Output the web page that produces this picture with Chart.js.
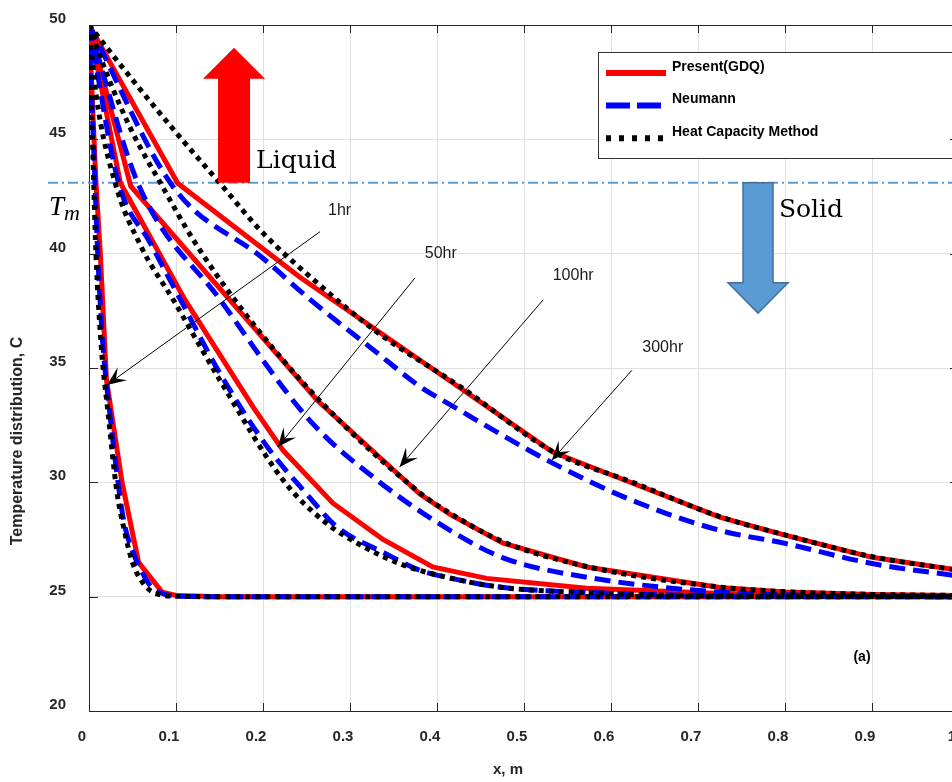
<!DOCTYPE html>
<html>
<head>
<meta charset="utf-8">
<script src="https://cdn.jsdelivr.net/npm/chart.js@4.4.1/dist/chart.umd.min.js"></script>
<style>
  html, body { margin: 0; padding: 0; background: #fff; overflow: hidden; }
  #wrap { width: 975px; height: 782px; }
</style>
</head>
<body>
<div id="wrap"><canvas id="c" width="975" height="782"></canvas></div>
<script>
/* ===== data ===== */
const xTickLabels = ['0','0.1','0.2','0.3','0.4','0.5','0.6','0.7','0.8','0.9','1'];
const yTickLabels = ['20','25','30','35','40','45','50'];
const methodNames = ['Present(GDQ)', 'Neumann', 'Heat Capacity Method'];
const timeLabels  = ['1hr', '50hr', '100hr', '300hr'];
const meltTemp = 43.1;

// Present (GDQ) – [x, T]
const gdq1hr   = [[0,50],[0.008,43.1],[0.013,40],[0.02,34.5],[0.038,30.0],[0.057,26.5],[0.084,25.2],[0.1,25.05],[0.15,25],[1,25]];
const gdq50hr  = [[0,50],[0.036,43.1],[0.11,38.0],[0.1885,33.3],[0.223,31.4],[0.28,29.1],[0.338,27.5],[0.395,26.3],[0.457,25.8],[0.572,25.37],[0.72,25.15],[0.85,25.05],[1,25]];
const gdq100hr = [[0,50],[0.048,42.95],[0.162,37.97],[0.262,33.6],[0.38,29.5],[0.415,28.6],[0.476,27.34],[0.572,26.3],[0.725,25.4],[0.8,25.2],[0.9,25.1],[1,25.05]];
const gdq300hr = [[0,50],[0.102,43.08],[0.2425,38.97],[0.43,34.04],[0.533,31.32],[0.625,29.96],[0.725,28.48],[0.8,27.69],[0.9,26.72],[1,26.15]];

// Neumann
const neu1hr   = [[0,50],[0.005,45],[0.01,40],[0.016,36],[0.024,33],[0.03,31],[0.04,28.3],[0.05,27],[0.058,26.3],[0.07,25.5],[0.08,25.2],[0.1,25.03],[0.15,25],[1,25]];
const neu50hr  = [[0,50],[0.034,43.1],[0.07,40.5],[0.105,38.0],[0.15,34.8],[0.205,31.55],[0.25,29.5],[0.285,28.05],[0.34,26.9],[0.38,26.16],[0.411,25.85],[0.476,25.4],[0.572,25.19],[0.7,25.05],[0.85,25.01],[1,25]];
const neu100hr = [[0,50],[0.056,43.1],[0.151,37.97],[0.254,32.7],[0.331,30.1],[0.415,27.9],[0.476,26.7],[0.572,25.85],[0.725,25.2],[0.85,25.05],[1,25.02]];
const neu300hr = [[0,50],[0.0966,42.93],[0.2,39.8],[0.254,38.0],[0.33,35.7],[0.38,34.2],[0.415,33.4],[0.533,30.84],[0.625,29.2],[0.725,27.9],[0.8,27.33],[0.9,26.45],[1,25.9]];

// Heat capacity method
const hcm1hr   = [[0,50],[0.004,45],[0.008,40],[0.014,36],[0.022,33],[0.032,29.6],[0.04,28],[0.05,26.5],[0.064,25.5],[0.08,25.1],[0.1,25.02],[0.15,25],[1,25]];
const hcm50hr  = [[0,50],[0.008,47],[0.03,43.1],[0.06,40.3],[0.097,37.97],[0.15,34.5],[0.223,30.1],[0.27,28.3],[0.315,27.2],[0.36,26.4],[0.411,25.85],[0.476,25.4],[0.572,25.18],[0.7,25.04],[1,25]];
const hcm100hr = [[0,50],[0.02,47.9],[0.05,45.3],[0.082,43.1],[0.12,40.6],[0.174,37.65],[0.262,33.7],[0.38,29.55],[0.415,28.65],[0.476,27.4],[0.572,26.32],[0.725,25.42],[0.8,25.22],[0.9,25.1],[1,25.05]];
const hcm300hr = [[0,50],[0.05,47.6],[0.1,45.3],[0.15,43.1],[0.2,40.9],[0.263,38.7],[0.33,36.6],[0.43,34.1],[0.533,31.35],[0.625,30.0],[0.725,28.5],[0.8,27.7],[0.9,26.75],[1,26.15]];

/* ===== annotations (data coords) ===== */
const timeArrows = [
  { text: '1hr',   from: [0.2655, 40.96], to: [0.0207, 34.26], label: [0.2747, 41.7] },
  { text: '50hr',  from: [0.3747, 38.94], to: [0.217, 31.54],  label: [0.386, 39.82] },
  { text: '100hr', from: [0.522, 37.98],  to: [0.357, 30.67],  label: [0.533, 38.85] },
  { text: '300hr', from: [0.624, 34.9],   to: [0.532, 30.97],  label: [0.636, 35.7] }
];

const FONT = '"Liberation Sans", Arial, sans-serif';
const AXIS_COLOR = '#262626';

const toXY = arr => arr.map(p => ({ x: p[0], y: p[1] }));

const styles = [
  { color: '#ff0000', width: 5, dash: [],     order: 3, legendDash: [] },
  { color: '#0000ff', width: 5, dash: [16,8], order: 2, legendDash: [24,7] },
  { color: '#000000', width: 5, dash: [5,5],  order: 1, legendDash: [5,8] }
];
const groups = [
  [gdq1hr, gdq50hr, gdq100hr, gdq300hr],
  [neu1hr, neu50hr, neu100hr, neu300hr],
  [hcm1hr, hcm50hr, hcm100hr, hcm300hr]
];

const datasets = [];
groups.forEach((series, m) => {
  const st = styles[m];
  series.forEach((s, i) => {
    datasets.push({
      label: methodNames[m] + ' ' + timeLabels[i],
      data: toXY(s),
      borderColor: st.color,
      backgroundColor: st.color,
      borderWidth: st.width,
      borderDash: st.dash,
      borderCapStyle: 'butt',
      pointRadius: 0,
      tension: 0,
      cubicInterpolationMode: m === 0 ? 'default' : 'monotone',
      order: st.order,
      fill: false
    });
  });
});

/* ===== helpers ===== */
function arrowHead(ctx, x0, y0, x1, y1, len, half, notch) {
  const a = Math.atan2(y1 - y0, x1 - x0);
  const c = Math.cos(a), s = Math.sin(a);
  const p = (l, w) => [x1 - c * l - s * w, y1 - s * l + c * w];
  const w1 = p(len, half), w2 = p(len, -half), n = p(notch, 0);
  ctx.beginPath();
  ctx.moveTo(x1, y1);
  ctx.lineTo(w1[0], w1[1]);
  ctx.lineTo(n[0], n[1]);
  ctx.lineTo(w2[0], w2[1]);
  ctx.closePath();
  ctx.fill();
}

/* ===== overlay plugin ===== */
const overlay = {
  id: 'overlay',
  beforeDatasetsDraw(chart) {
    const { ctx, chartArea: a, scales: { y } } = chart;
    const ym = y.getPixelForValue(meltTemp);
    ctx.save();
    ctx.strokeStyle = '#5b9bd5';
    ctx.lineWidth = 2;
    ctx.setLineDash([10, 4, 2, 4]);
    ctx.beginPath();
    ctx.moveTo(a.left - 41, ym);
    ctx.lineTo(a.right, ym);
    ctx.stroke();
    ctx.restore();
  },
  afterDatasetsDraw(chart) {
    const { ctx, chartArea: a, scales: { x, y } } = chart;
    const X = v => x.getPixelForValue(v), Y = v => y.getPixelForValue(v);
    ctx.save();

    // Liquid arrow (red, up)
    let cx = X(0.1667);
    let top = Y(49.0), hb = Y(47.65), bot = Y(meltTemp);
    ctx.fillStyle = '#ff0000';
    ctx.beginPath();
    ctx.moveTo(cx, top);
    ctx.lineTo(cx + 31, hb);
    ctx.lineTo(cx + 16, hb);
    ctx.lineTo(cx + 16, bot);
    ctx.lineTo(cx - 16, bot);
    ctx.lineTo(cx - 16, hb);
    ctx.lineTo(cx - 31, hb);
    ctx.closePath();
    ctx.fill();

    // Solid arrow (blue, down)
    cx = X(0.769);
    top = Y(meltTemp); hb = Y(38.73); bot = Y(37.4);
    ctx.fillStyle = '#5b9bd5';
    ctx.strokeStyle = '#41719c';
    ctx.lineWidth = 1.5;
    ctx.beginPath();
    ctx.moveTo(cx - 15, top);
    ctx.lineTo(cx + 15, top);
    ctx.lineTo(cx + 15, hb);
    ctx.lineTo(cx + 30, hb);
    ctx.lineTo(cx, bot);
    ctx.lineTo(cx - 30, hb);
    ctx.lineTo(cx - 15, hb);
    ctx.closePath();
    ctx.fill();
    ctx.stroke();

    // Liquid / Solid text
    ctx.fillStyle = '#000';
    ctx.font = '25px "DejaVu Serif", "Liberation Serif", serif';
    ctx.textBaseline = 'alphabetic';
    ctx.textAlign = 'left';
    ctx.fillText('Liquid', X(0.192), Y(43.76));
    ctx.fillText('Solid', X(0.793), Y(41.6));

    // T_m label
    const tmY = Y(41.7);
    ctx.font = 'italic 27px "Liberation Serif", "DejaVu Serif", serif';
    ctx.fillText('T', a.left - 40, tmY);
    ctx.font = 'italic 22px "Liberation Serif", "DejaVu Serif", serif';
    ctx.fillText('m', a.left - 25, tmY + 5);

    // time arrows
    ctx.strokeStyle = '#000';
    ctx.fillStyle = '#000';
    ctx.lineWidth = 1;
    timeArrows.forEach(t => {
      const x0 = X(t.from[0]), y0 = Y(t.from[1]);
      const x1 = X(t.to[0]),   y1 = Y(t.to[1]);
      ctx.beginPath();
      ctx.moveTo(x0, y0);
      ctx.lineTo(x1, y1);
      ctx.stroke();
      arrowHead(ctx, x0, y0, x1, y1, 19, 8, 11);
      ctx.font = '16px ' + FONT;
      ctx.fillStyle = '#1a1a1a';
      ctx.fillText(t.text, X(t.label[0]), Y(t.label[1]));
      ctx.fillStyle = '#000';
    });

    // (a)
    ctx.font = 'bold 14px ' + FONT;
    ctx.textAlign = 'center';
    ctx.textBaseline = 'middle';
    ctx.fillText('(a)', X(0.8885), Y(22.37));

    // legend
    const lx = 598, ly = 52, lh = 106;
    ctx.fillStyle = '#fff';
    ctx.fillRect(lx, ly, 380, lh);
    ctx.strokeStyle = '#333';
    ctx.lineWidth = 1;
    ctx.strokeRect(lx + 0.5, ly + 0.5, 380, lh);
    ctx.textAlign = 'left';
    ctx.textBaseline = 'middle';
    ctx.font = 'bold 14px ' + FONT;
    styles.forEach((st, i) => {
      const yy = ly + 21 + i * 32.6;
      ctx.strokeStyle = st.color;
      ctx.lineWidth = st.width + 1;
      ctx.setLineDash(st.legendDash);
      ctx.beginPath();
      ctx.moveTo(lx + 8, yy);
      ctx.lineTo(lx + 68, yy);
      ctx.stroke();
      ctx.setLineDash([]);
      ctx.fillStyle = '#000';
      ctx.fillText(methodNames[i], lx + 74, yy - 6);
    });
    ctx.restore();
  },
  afterDraw(chart) {
    const { ctx, chartArea: a, scales: { x, y } } = chart;
    ctx.save();
    ctx.strokeStyle = AXIS_COLOR;
    ctx.lineWidth = 1;
    // top border
    ctx.beginPath();
    ctx.moveTo(a.left, a.top + 0.5);
    ctx.lineTo(a.right, a.top + 0.5);
    ctx.stroke();
    // inner tick marks
    ctx.beginPath();
    x.ticks.forEach(t => {
      const px = Math.round(x.getPixelForValue(t.value)) + 0.5;
      ctx.moveTo(px, a.bottom); ctx.lineTo(px, a.bottom - 8);
      ctx.moveTo(px, a.top);    ctx.lineTo(px, a.top + 8);
    });
    y.ticks.forEach(t => {
      const py = Math.round(y.getPixelForValue(t.value)) + 0.5;
      ctx.moveTo(a.left, py);  ctx.lineTo(a.left + 9, py);
      ctx.moveTo(a.right, py); ctx.lineTo(a.right - 9, py);
    });
    ctx.stroke();

    // axis titles
    ctx.fillStyle = AXIS_COLOR;
    ctx.font = 'bold 15px ' + FONT;
    ctx.textAlign = 'center';
    ctx.textBaseline = 'middle';
    ctx.fillText('x, m', 508, 770);
    ctx.translate(18, 441);
    ctx.rotate(-Math.PI / 2);
    ctx.font = 'bold 16px ' + FONT;
    ctx.fillText('Temperature distribution, C', 0, 0);
    ctx.restore();
  }
};

/* ===== chart ===== */
new Chart(document.getElementById('c').getContext('2d'), {
  type: 'line',
  data: { datasets },
  options: {
    responsive: false,
    animation: false,
    layout: { padding: { top: 25, right: 16, left: 0, bottom: 0 } },
    plugins: { legend: { display: false }, tooltip: { enabled: false } },
    scales: {
      x: {
        type: 'linear',
        min: 0, max: 1,
        afterFit: s => { s.height = 71; s.paddingLeft = 0; s.paddingRight = 0; },
        grid: { color: '#e0e0e0', drawTicks: false },
        border: { color: AXIS_COLOR, width: 1 },
        ticks: {
          stepSize: 0.1,
          padding: 17,
          labelOffset: -7,
          maxRotation: 0,
          autoSkip: false,
          color: AXIS_COLOR,
          font: { family: FONT, size: 15, weight: 'bold' },
          callback: (v, i) => xTickLabels[i]
        }
      },
      y: {
        type: 'linear',
        min: 20, max: 50,
        afterFit: s => { s.width = 89; s.paddingTop = 0; s.paddingBottom = 0; },
        grid: { color: '#e0e0e0', drawTicks: false },
        border: { color: AXIS_COLOR, width: 1 },
        ticks: {
          stepSize: 5,
          padding: 23,
          labelOffset: -6,
          color: AXIS_COLOR,
          font: { family: FONT, size: 15, weight: 'bold' },
          callback: (v, i) => yTickLabels[i]
        }
      }
    }
  },
  plugins: [overlay]
});
</script>
</body>
</html>
